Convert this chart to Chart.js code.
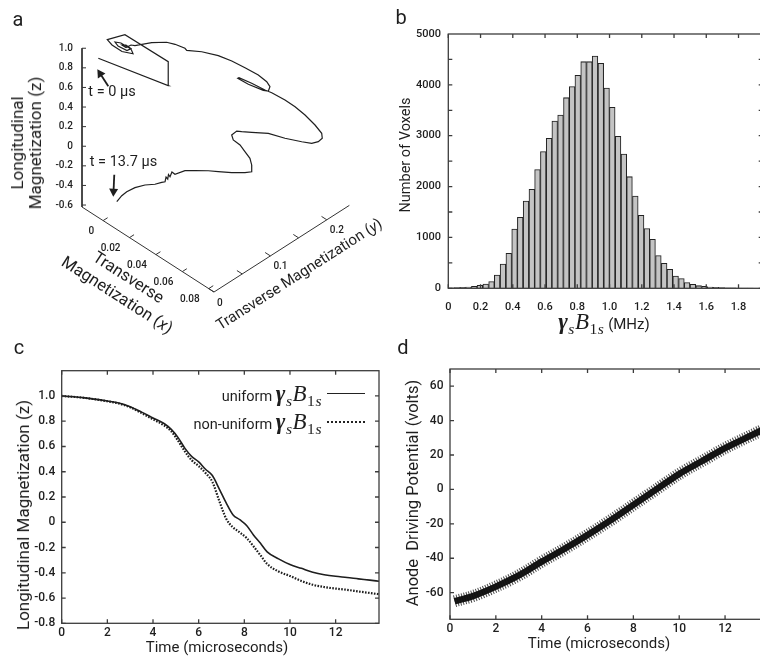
<!DOCTYPE html>
<html>
<head>
<meta charset="utf-8">
<script src="https://cdn.jsdelivr.net/npm/chart.js@4.4.1/dist/chart.umd.min.js"></script>
<style>
  html, body { margin: 0; padding: 0; background: #fff; }
  #page { position: relative; width: 760px; height: 656px; overflow: hidden; font-family: Roboto, sans-serif; font-weight: 400; color: #1e1e1e; }
  canvas { position: absolute; }
  .lbl { position: absolute; white-space: nowrap; text-align: center; }
  .m { font-family: "Liberation Serif", "DejaVu Serif", serif; font-style: italic; font-weight: 400; letter-spacing: 0.5px; }
  .m b { font-weight: 700; }
  .m .sb { font-size: 68%; position: relative; top: 0.35em; }
  .m .up { font-style: normal; }
  .leg { position: absolute; width: 38px; }
</style>
</head>
<body>
<div id="page">
  <canvas id="ca" width="380" height="330" style="left:0;top:0"></canvas>
  <canvas id="cb" width="390" height="330" style="left:380px;top:0"></canvas>
  <canvas id="cc" width="380" height="326" style="left:0;top:330px"></canvas>
  <canvas id="cd" width="400" height="326" style="left:380px;top:330px"></canvas>
  <div class="leg" style="left:327px;top:393px;border-top:1.6px solid #222"></div>
  <div class="leg" style="left:327px;top:421px;border-top:2px dotted #222"></div>
</div>
<script>
// ---------- a: magnetization trajectory (Mx, My, Mz) ----------
const trajMx = [-0.0039, 0.0387, 0.0245, -0.0078, -0.0115, -0.0066, 0.0010, 0.0065, 0.0030, -0.0044,
  -0.0072, -0.0037, 0.0023, 0.0027, -0.0013, -0.0028, 0.0002, 0.0006, 0.0019, 0.0059,
  0.0107, 0.0148, 0.0206, 0.0222, 0.0281, 0.0358, 0.0429, 0.0501, 0.0577, 0.0631,
  0.0661, 0.0669, 0.0640, 0.0542, 0.0461, 0.0462, 0.0537, 0.0621, 0.0657, 0.0727,
  0.0770, 0.0816, 0.0855, 0.0877, 0.0874, 0.0856, 0.0823, 0.0759, 0.0652, 0.0537,
  0.0445, 0.0386, 0.0352, 0.0339, 0.0357, 0.0389, 0.0418, 0.0447, 0.0464, 0.0481,
  0.0444, 0.0382, 0.0314, 0.0265, 0.0203, 0.0159, 0.0131, 0.0103, 0.0121, 0.0102,
  0.0123, 0.0102, 0.0126, 0.0114, 0.0097, 0.0058, 0.0030, 0.0017, 0.0016, 0.0025, 0.0027];
const trajMy = [0.0006, 0.0250, 0.0581, 0.0569, 0.0343, 0.0312, 0.0311, 0.0378, 0.0425, 0.0419,
  0.0380, 0.0351, 0.0369, 0.0432, 0.0436, 0.0400, 0.0401, 0.0480, 0.0520, 0.0723,
  0.0876, 0.0929, 0.0969, 0.0963, 0.1091, 0.1204, 0.1277, 0.1343, 0.1401, 0.1424,
  0.1411, 0.1364, 0.1342, 0.1306, 0.1308, 0.1328, 0.1377, 0.1416, 0.1452, 0.1523,
  0.1601, 0.1670, 0.1756, 0.1823, 0.1840, 0.1812, 0.1772, 0.1745, 0.1698, 0.1673,
  0.1593, 0.1553, 0.1545, 0.1486, 0.1472, 0.1517, 0.1536, 0.1557, 0.1548, 0.1509,
  0.1476, 0.1385, 0.1307, 0.1245, 0.1154, 0.1079, 0.0967, 0.0979, 0.0903, 0.0920,
  0.0858, 0.0877, 0.0803, 0.0772, 0.0692, 0.0607, 0.0494, 0.0379, 0.0293, 0.0210, 0.0179];
const trajMz = [1.0, 1.0, 1.0, 1.0, 1.0, 1.0, 1.0, 1.0, 1.0, 1.0,
  1.0, 1.0, 1.0, 1.0, 1.0, 1.0, 1.0, 1.0, 0.99, 0.98,
  0.97, 0.965, 0.96, 0.955, 0.945, 0.93, 0.91, 0.88, 0.85, 0.82,
  0.80, 0.78, 0.77, 0.76, 0.75, 0.75, 0.74, 0.73, 0.72, 0.68,
  0.62, 0.55, 0.45, 0.36, 0.30, 0.26, 0.23, 0.20, 0.16, 0.12,
  0.08, 0.05, 0.03, 0.0, -0.03, -0.07, -0.12, -0.17, -0.22, -0.26,
  -0.29, -0.31, -0.33, -0.34, -0.36, -0.37, -0.39, -0.395, -0.40, -0.40,
  -0.405, -0.41, -0.41, -0.415, -0.42, -0.43, -0.44, -0.45, -0.46, -0.465, -0.47];
const zTicksA = [-0.6, -0.4, -0.2, 0, 0.2, 0.4, 0.6, 0.8, 1.0];
const xTicksA = [0, 0.02, 0.04, 0.06, 0.08];
const yTicksA = [0, 0.05, 0.1, 0.15, 0.2];
const yLabelsA = [0, 0.1, 0.2];

// ---------- b: histogram ----------
const binCenters = [0.018, 0.054, 0.089, 0.125, 0.161, 0.196, 0.232, 0.268, 0.303, 0.339,
  0.375, 0.411, 0.446, 0.482, 0.518, 0.553, 0.589, 0.625, 0.660, 0.696,
  0.732, 0.768, 0.803, 0.839, 0.875, 0.910, 0.946, 0.982, 1.017, 1.053,
  1.089, 1.124, 1.160, 1.196, 1.232, 1.267, 1.303, 1.339, 1.374, 1.410,
  1.446, 1.481, 1.517, 1.553, 1.589, 1.624, 1.660, 1.696, 1.731, 1.767,
  1.803, 1.839, 1.874];
const voxelCounts = [7, 13, 20, 26, 39, 59, 85, 131, 262, 478,
  688, 1166, 1396, 1717, 1946, 2333, 2687, 2949, 3290, 3408,
  3748, 3965, 4187, 4456, 4456, 4567, 4423, 3938, 3558, 2988,
  2641, 2195, 1815, 1435, 1173, 963, 642, 491, 374, 242,
  190, 111, 79, 52, 39, 26, 20, 13, 10, 7,
  5, 3, 2];
const histXTicks = [0, 0.2, 0.4, 0.6, 0.8, 1.0, 1.2, 1.4, 1.6, 1.8];
const histYTicks = [0, 1000, 2000, 3000, 4000, 5000];
const histYMinor = [0, 500, 1000, 1500, 2000, 2500, 3000, 3500, 4000, 4500];

// ---------- c: longitudinal magnetization vs time ----------
const timeC = [0, 1, 2, 2.5, 3, 3.5, 4, 4.5, 4.8, 5.1, 5.4, 5.7, 6.0, 6.3, 6.6, 6.9, 7.2,
  7.5, 7.8, 8.1, 8.4, 8.7, 9.0, 9.5, 10, 10.5, 11, 11.5, 12, 12.5, 13, 13.5, 13.9];
const mzUniform = [1.0, 0.985, 0.96, 0.945, 0.915, 0.872, 0.826, 0.78, 0.735, 0.67, 0.585, 0.52,
  0.478, 0.42, 0.37, 0.265, 0.155, 0.06, 0.02, -0.025, -0.1, -0.165, -0.235, -0.29, -0.335,
  -0.365, -0.395, -0.415, -0.428, -0.437, -0.448, -0.458, -0.467];
const mzNonUniform = [1.0, 0.985, 0.958, 0.94, 0.91, 0.865, 0.815, 0.765, 0.72, 0.645, 0.56, 0.49,
  0.445, 0.39, 0.32, 0.17, 0.03, -0.04, -0.08, -0.125, -0.19, -0.26, -0.33, -0.39, -0.425,
  -0.465, -0.495, -0.513, -0.525, -0.535, -0.548, -0.56, -0.57];
const cXTicks = [0, 2, 4, 6, 8, 10, 12];
const cYTicks = [-0.8, -0.6, -0.4, -0.2, 0, 0.2, 0.4, 0.6, 0.8, 1.0];

// ---------- d: anode driving potential ----------
const timeD = [0.2, 1, 2, 3, 4, 5, 6, 7, 8, 9, 10, 11, 12, 13, 13.7];
const anodeVolts = [-65, -62, -56.5, -50, -42, -34.5, -26.5, -18, -9, 0, 9, 16.5, 24, 30.5, 35];
const dXTicks = [0, 2, 4, 6, 8, 10, 12];
const dYTicks = [-60, -40, -20, 0, 20, 40, 60];

const INK = '#1e1e1e';
const FONT = 'Roboto';
const W = '500 ';

// 3D box of panel a and its oblique view
const BOX = { x: [-0.016, 0.084], y: [0, 0.24], z: [-0.62, 1.0] };
const VIEW = { origin: [82, 207], ex: [1320, 850], ey: [564, -361], ez: [0, -98] };
function project(mx, my, mz) {
  const dx = mx - BOX.x[0], dy = my - BOX.y[0], dz = mz - BOX.z[0];
  return {
    x: VIEW.origin[0] + dx * VIEW.ex[0] + dy * VIEW.ey[0] + dz * VIEW.ez[0],
    y: VIEW.origin[1] + dx * VIEW.ex[1] + dy * VIEW.ey[1] + dz * VIEW.ez[1]
  };
}

const fmt1 = v => (v === 0 ? '0' : v.toFixed(1));
const fmt2 = v => (v === 0 ? '0' : v.toFixed(2));

function arrow(ctx, x0, y0, x1, y1) {
  const a = Math.atan2(y1 - y0, x1 - x0);
  ctx.beginPath();
  ctx.moveTo(x0, y0);
  ctx.lineTo(x1 - 6 * Math.cos(a), y1 - 6 * Math.sin(a));
  ctx.stroke();
  ctx.beginPath();
  ctx.moveTo(x1, y1);
  ctx.lineTo(x1 - 8 * Math.cos(a) + 4.5 * Math.sin(a), y1 - 8 * Math.sin(a) - 4.5 * Math.cos(a));
  ctx.lineTo(x1 - 8 * Math.cos(a) - 4.5 * Math.sin(a), y1 - 8 * Math.sin(a) + 4.5 * Math.cos(a));
  ctx.closePath();
  ctx.fill();
}

// ticks, tick labels and time markers of the 3D axes
const axes3d = {
  id: 'axes3d',
  afterDatasetsDraw(chart) {
    const { ctx } = chart;
    const sx = chart.scales.x, sy = chart.scales.y;
    const at = (mx, my, mz) => {
      const p = project(mx, my, mz);
      return [sx.getPixelForValue(p.x), sy.getPixelForValue(p.y)];
    };
    ctx.save();
    ctx.strokeStyle = '#333';
    ctx.fillStyle = INK;
    ctx.lineWidth = 1;
    ctx.font = W + '10px ' + FONT;

    ctx.textAlign = 'right';
    ctx.textBaseline = 'middle';
    zTicksA.forEach(v => {
      const [px, py] = at(BOX.x[0], BOX.y[0], v);
      ctx.beginPath(); ctx.moveTo(px, py); ctx.lineTo(px + 4, py); ctx.stroke();
      ctx.fillText(fmt1(v), px - 9, py);
    });
    xTicksA.forEach(v => {
      const [px, py] = at(v, BOX.y[0], BOX.z[0]);
      const [qx, qy] = at(v, BOX.y[0] + 0.008, BOX.z[0]);
      ctx.beginPath(); ctx.moveTo(px, py); ctx.lineTo(qx, qy); ctx.stroke();
      ctx.fillText(fmt2(v), px - 9, py + 11);
    });
    ctx.textAlign = 'left';
    yTicksA.forEach(v => {
      const [px, py] = at(BOX.x[1], v, BOX.z[0]);
      const [qx, qy] = at(BOX.x[1] - 0.004, v, BOX.z[0]);
      ctx.beginPath(); ctx.moveTo(px, py); ctx.lineTo(qx, qy); ctx.stroke();
    });
    yLabelsA.forEach(v => {
      const [px, py] = at(BOX.x[1], v, BOX.z[0]);
      ctx.fillText(fmt1(v), px + 3, py + 11);
    });

    // start / end markers of the trajectory
    const n = trajMx.length - 1;
    const [s0x, s0y] = at(trajMx[0], trajMy[0], trajMz[0]);
    const [s1x, s1y] = at(trajMx[n], trajMy[n], trajMz[n]);
    ctx.fillStyle = '#1e1e1e';
    ctx.strokeStyle = '#1e1e1e';
    ctx.lineWidth = 1.8;
    arrow(ctx, s0x + 10, s0y + 28, s0x - 1, s0y + 11);
    arrow(ctx, s1x - 2.5, s1y - 27, s1x - 3.5, s1y - 5);
    ctx.fillStyle = INK;
    ctx.font = '14.5px ' + FONT;
    ctx.textBaseline = 'middle';
    ctx.fillText('t = 0 \u03bcs', s0x - 10, s0y + 34);
    ctx.fillText('t = 13.7 \u03bcs', s1x - 27, s1y - 39);
    ctx.restore();
  }
};

// box frame with inward ticks for the 2D panels
const frame = {
  id: 'frame',
  afterDraw(chart, args, opts) {
    const { ctx, chartArea: a } = chart;
    const sx = chart.scales.x, sy = chart.scales.y;
    ctx.save();
    ctx.strokeStyle = '#3c3c3c';
    ctx.lineWidth = 1.3;
    ctx.strokeRect(a.left, a.top, a.right - a.left, a.bottom - a.top);
    ctx.beginPath();
    (opts.xTicks || []).forEach(v => {
      const px = sx.getPixelForValue(v);
      ctx.moveTo(px, a.bottom); ctx.lineTo(px, a.bottom - 4);
      ctx.moveTo(px, a.top); ctx.lineTo(px, a.top + 4);
    });
    (opts.yTicks || []).forEach(v => {
      const py = sy.getPixelForValue(v);
      ctx.moveTo(a.left, py); ctx.lineTo(a.left + 4, py);
      ctx.moveTo(a.right, py); ctx.lineTo(a.right - 4, py);
    });
    ctx.stroke();
    ctx.restore();
  }
};

const base = {
  responsive: false,
  animation: false,
  events: [],
};
const noPlug = { legend: { display: false }, tooltip: { enabled: false } };

function axis(min, max, ticks, fmt, size, pad, fit) {
  return {
    type: 'linear', min, max, offset: false,
    grid: { display: false, drawTicks: false }, border: { display: false },
    afterBuildTicks: s => { s.ticks = ticks.map(v => ({ value: v })); },
    afterFit: fit,
    ticks: { padding: pad, autoSkip: false, maxRotation: 0, color: INK,
      font: { family: FONT, size, weight: 500 }, callback: fmt }
  };
}

// a
new Chart(document.getElementById('ca'), {
  type: 'scatter',
  data: {
    datasets: [
      { data: trajMx.map((v, i) => project(v, trajMy[i], trajMz[i])), showLine: true,
        borderColor: '#1f1f1f', borderWidth: 1.2, pointRadius: 0, tension: 0 },
      { data: [[BOX.x[0], BOX.y[0], 1.0], [BOX.x[0], BOX.y[0], BOX.z[0]],
               [BOX.x[1], BOX.y[0], BOX.z[0]], [BOX.x[1], BOX.y[1], BOX.z[0]]].map(c => project(...c)),
        showLine: true, borderColor: '#333', borderWidth: 1, pointRadius: 0 }
    ]
  },
  options: Object.assign({}, base, {
    layout: { padding: 0 },
    plugins: noPlug,
    scales: {
      x: { type: 'linear', display: false, min: 0, max: 380 },
      y: { type: 'linear', display: false, min: 0, max: 330, reverse: true }
    }
  }),
  plugins: [axes3d]
});

// b
new Chart(document.getElementById('cb'), {
  type: 'bar',
  data: {
    datasets: [{
      data: binCenters.map((x, i) => ({ x, y: voxelCounts[i] })),
      backgroundColor: '#c4c4c4', borderColor: '#222', borderWidth: 1.05,
      barPercentage: 1, categoryPercentage: 1
    }]
  },
  options: Object.assign({}, base, {
    layout: { padding: { top: 34, right: 7.3, left: 0, bottom: 0 } },
    plugins: Object.assign({ frame: { xTicks: histXTicks, yTicks: histYMinor } }, noPlug),
    scales: {
      x: axis(0, 1.95, histXTicks, fmt1, 11, 12.5, s => { s.height = 41.7; }),
      y: axis(0, 5000, histYTicks, v => String(v), 11, 7.3, s => { s.width = 68.3; })
    }
  }),
  plugins: [frame]
});

// c
new Chart(document.getElementById('cc'), {
  type: 'scatter',
  data: {
    datasets: [
      { data: timeC.map((t, i) => ({ x: t, y: mzUniform[i] })), showLine: true,
        borderColor: '#1e1e1e', borderWidth: 1.6, pointRadius: 0, cubicInterpolationMode: 'monotone' },
      { data: timeC.map((t, i) => ({ x: t, y: mzNonUniform[i] })), showLine: true,
        borderColor: '#1e1e1e', borderWidth: 2.2, borderDash: [1.6, 1.4], pointRadius: 0,
        cubicInterpolationMode: 'monotone' }
    ]
  },
  options: Object.assign({}, base, {
    layout: { padding: { top: 40.7, right: 1, left: 0, bottom: 0 } },
    plugins: Object.assign({ frame: { xTicks: cXTicks, yTicks: cYTicks } }, noPlug),
    scales: {
      x: axis(0, 13.9, cXTicks, v => String(v), 12, 2, s => { s.height = 32.7; }),
      y: axis(-0.8, 1.2, cYTicks, fmt1, 12, 6.5, s => { s.width = 61.7; })
    }
  }),
  plugins: [frame]
});

// d: the recorded trace is noisy, drawn as a dark core with a hatched fringe
const traceD = timeD.map((t, i) => ({ x: t, y: anodeVolts[i] }));
new Chart(document.getElementById('cd'), {
  type: 'scatter',
  data: {
    datasets: [
      { data: traceD, showLine: true, borderColor: 'rgba(15,15,15,0.75)', borderWidth: 12,
        borderDash: [1, 1.6], pointRadius: 0, cubicInterpolationMode: 'monotone' },
      { data: traceD, showLine: true, borderColor: '#161616', borderWidth: 6.5,
        pointRadius: 0, cubicInterpolationMode: 'monotone' }
    ]
  },
  options: Object.assign({}, base, {
    layout: { padding: { top: 39, right: 9.1, left: 0, bottom: 0 } },
    plugins: Object.assign({ frame: { xTicks: dXTicks, yTicks: dYTicks } }, noPlug),
    scales: {
      x: axis(0, 14, dXTicks, v => String(v), 12, 2, s => { s.height = 36.7; }),
      y: axis(-75.5, 70, dYTicks, v => String(v), 12, 6.5, s => { s.width = 70; })
    }
  }),
  plugins: [frame]
});

// titles and panel letters
const page = document.getElementById('page');
function place(html, cx, cy, size, rot, extra) {
  const d = document.createElement('div');
  d.className = 'lbl';
  d.innerHTML = html;
  d.style.left = cx + 'px';
  d.style.top = cy + 'px';
  d.style.fontSize = size + 'px';
  d.style.transform = 'translate(-50%, -50%) rotate(' + (rot || 0) + 'deg)';
  if (extra) Object.assign(d.style, extra);
  page.appendChild(d);
  return d;
}
const gammaB = size => '<span class="m" style="font-size:' + size + 'px"><b>\u03b3</b><span class="sb">s</span>B<span class="sb"><span class="up">1</span>s</span></span>';
function legendRow(text, cy) {
  const d = place(text + ' ' + gammaB(23), 0, cy, 14.5);
  d.style.left = 'auto';
  d.style.right = (760 - 322) + 'px';
  d.style.transform = 'translateY(-50%)';
}

place('a', 18, 19, 20);
place('b', 401, 17, 20);
place('c', 19, 347, 20);
place('d', 403, 347, 20);

place('Longitudinal<br>Magnetization (z)', 26, 143, 17, -90, { lineHeight: '18px' });
place('Transverse<br>Magnetization (<i>x</i>)', 123, 286, 16.5, 32.8, { lineHeight: '21px' });
place('Transverse Magnetization (<i>y</i>)', 299, 274, 15, -32.6);

place('Number of Voxels', 405, 155, 14.5, -90);
place(gammaB(23) + ' (MHz)', 604, 322, 15);

place('Longitudinal Magnetization (z)', 23, 515, 17, -90);
place('Time (microseconds)', 217, 647, 15);
place('Anode&nbsp; Driving Potential (volts)', 412, 493, 16.5, -90);
place('Time (microseconds)', 599, 643, 15);

legendRow('uniform', 394);
legendRow('non-uniform', 421.5);
</script>
</body>
</html>
